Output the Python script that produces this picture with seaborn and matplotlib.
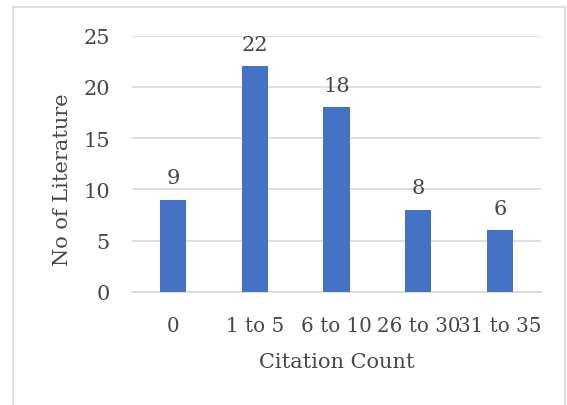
import matplotlib
matplotlib.use("Agg")
import matplotlib.pyplot as plt
from matplotlib.patches import Rectangle
import seaborn as sns
import pandas as pd

# Citation-count bins and number of papers in each
categories = ["0", "1 to 5", "6 to 10", "26 to 30", "31 to 35"]
counts = [9, 22, 18, 8, 6]
y_ticks = [0, 5, 10, 15, 20, 25]

sns.set_theme(style="white")
plt.rcParams["font.family"] = ["DejaVu Serif"]

text_color = "#474747"
grid_color = "#D9D9D9"
bar_color = "#4472C4"
fs = 15

df = pd.DataFrame({"Citation Count": categories, "No of Literature": counts})

fig = plt.figure(figsize=(5.67, 4.06), dpi=100)
ax = fig.add_axes([132 / 567, 1 - 293 / 406, (541 - 132) / 567, (293 - 36.7) / 406])

sns.barplot(data=df, x="Citation Count", y="No of Literature", color=bar_color,
            width=0.32, saturation=1, ax=ax, zorder=3, edgecolor="none")

ax.set_ylim(0, 25)
ax.set_yticks(y_ticks)
ax.set_xlim(-0.5, len(categories) - 0.5)
ax.yaxis.grid(True, color=grid_color, linewidth=1.2, zorder=0)
ax.set_axisbelow(True)
for s in ["left", "right", "top"]:
    ax.spines[s].set_visible(False)
ax.spines["bottom"].set_color(grid_color)
ax.spines["bottom"].set_linewidth(1.2)

ax.tick_params(axis="both", length=0, labelcolor=text_color)
ax.tick_params(axis="y", pad=16, labelsize=fs)
ax.tick_params(axis="x", pad=17, labelsize=14.3)

ax.set_xlabel("")
ax.set_ylabel("")

# Value labels above each bar
for i, v in enumerate(counts):
    ax.annotate(str(v), xy=(i, v), xytext=(0, 16), textcoords="offset points",
                ha="center", va="center", fontsize=fs, color=text_color)

fig.text(337 / 567, 1 - 363 / 406, "Citation Count", ha="center", va="center",
         fontsize=fs, color=text_color)
fig.text(62 / 567, 1 - 180 / 406, "No of Literature", ha="center", va="center",
         rotation=90, fontsize=fs, color=text_color)

# Chart-area frame
fig.patches.append(Rectangle((13 / 567, -0.1), (565 - 13) / 567, 1.1 - 8 / 406,
                             transform=fig.transFigure, fill=False,
                             edgecolor=grid_color, linewidth=1.2))

fig.savefig("out.png", dpi=100)
